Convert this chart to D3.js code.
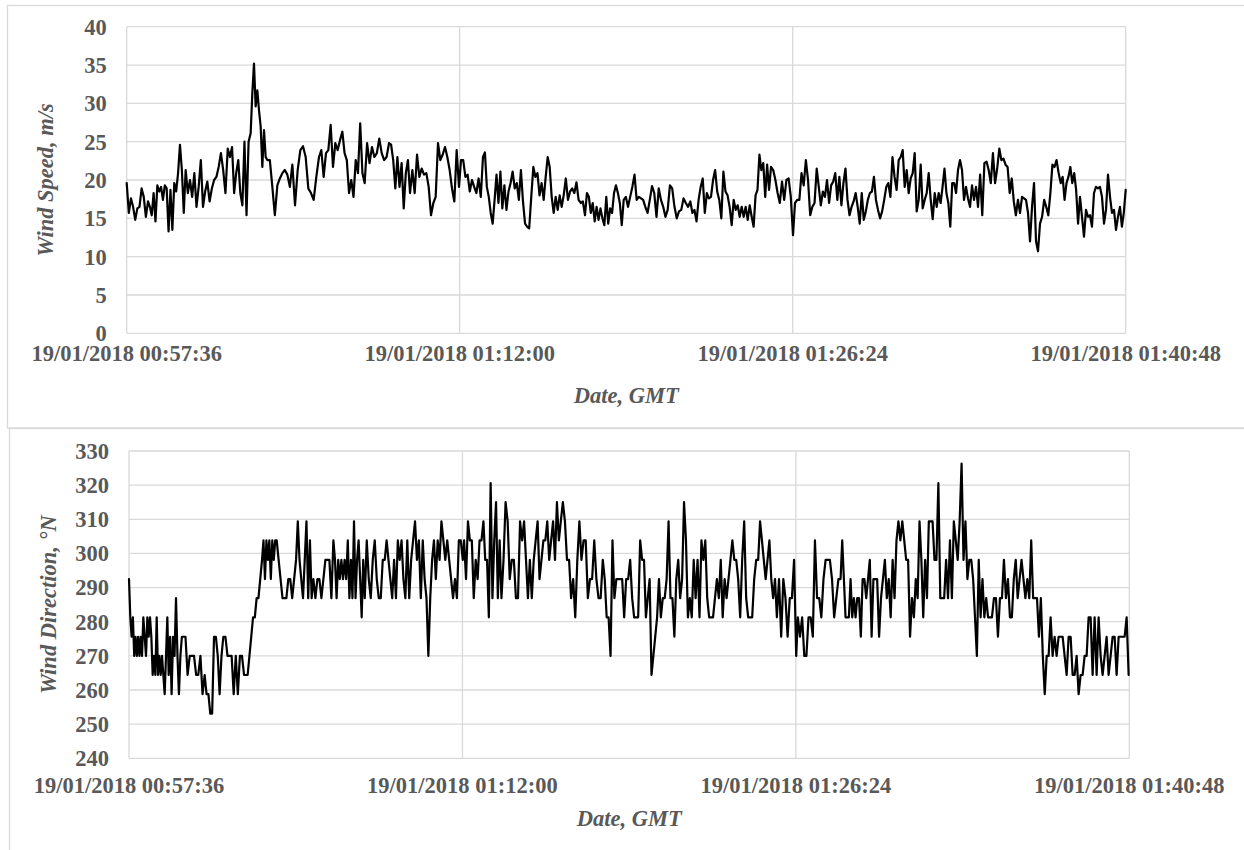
<!DOCTYPE html>
<html>
<head>
<meta charset="utf-8">
<script src="https://cdn.jsdelivr.net/npm/d3@7"></script>
<style>
  html, body { margin: 0; padding: 0; background: #fff; }
  svg { display: block; }
  text { font-family: "Liberation Serif", "Times New Roman", serif; }
</style>
</head>
<body>
<svg id="chart" width="1244" height="850"></svg>
<script>
// ---------------- DATA ----------------
const startTime = Date.UTC(2018, 0, 19, 0, 57, 36);
const xTickSeconds = [0, 864, 1728, 2592];

const speedTicks = [0, 5, 10, 15, 20, 25, 30, 35, 40];
const directionTicks = [240, 250, 260, 270, 280, 290, 300, 310, 320, 330];

// Wind speed (m/s), three consecutive time segments
const speedSeg1 = [19.6,15.7,17.6,16.5,14.8,16.3,16.5,18.9,17.8,15.2,
17.2,16.5,15.4,18.3,14.6,19.3,18.5,19.1,17.4,19.3,
18.9,13.3,18.7,13.5,19.6,18.5,20.9,24.6,21.3,15.7,
21.3,18.3,20.0,17.8,20.9,16.5,19.1,22.6,16.5,18.5,
19.8,17.2,18.9,20.0,20.4,21.7,23.5,21.3,18.3,24.1,
23.0,24.3,18.3,20.9,22.6,18.3,16.7,25.0,15.4,25.0,
26.1,31.3,35.2,29.6,31.7,29.1,27.0,21.7,26.5,23.0,
22.6,22.6,19.1,15.4,19.3,20.2,20.9,21.3,20.7,19.1,
22.0,16.7,21.3,23.9,24.4,23.0,18.9,18.3,17.4,20.4,
23.0,23.9,20.4,23.5,23.9,27.2,21.7,24.8,23.9,25.2,
26.3,23.5,22.6,18.3,20.0,17.8,22.6,20.9,27.4,20.9,
19.6,24.8,22.2,24.3,23.0,23.5,25.4,23.5,22.6,23.0,
24.8,24.6,22.6,18.9,23.0,19.1,22.2,16.3,20.9,22.6,
18.3,21.3,18.3,23.3,20.4,21.5,20.7,20.9,19.1,15.4,
17.0,17.8,24.8,22.6,23.3,24.3,23.0,21.3,18.9,17.2,
23.9,19.1];
const speedSeg2 = [22.6,22.6,20.4,20.7,18.5,20.0,19.1,18.3,20.2,17.8,
23.0,23.6,19.1,17.8,15.7,14.3,17.4,20.7,17.0,21.1,
16.3,19.3,16.1,18.5,19.6,21.1,18.9,19.6,17.4,21.3,
17.2,14.3,13.9,13.7,17.8,21.7,20.4,20.9,18.0,19.6,
17.4,20.4,23.0,21.7,17.8,15.7,17.8,16.1,18.0,16.5,
18.0,20.2,17.4,18.5,18.9,18.3,19.7,17.4,17.0,17.2,
15.4,18.3,17.8,15.7,17.0,14.6,16.5,14.8,16.3,15.0,
14.1,17.8,14.3,16.3,15.7,18.3,19.3,18.3,17.0,14.1,
17.4,17.8,16.5,17.8,19.1,20.7,17.4,17.8,17.6,17.4,
16.5,15.7,17.4,19.2,18.3,15.2,18.9,17.4,16.5,15.2,
16.1,19.3,18.9,16.5,15.0,15.9,16.1,17.6,17.0,16.5,
17.2,15.7,16.1,14.6,17.4,19.1,20.2,15.7,18.3,17.6,
17.8,20.0,21.3,18.5,17.4,15.0,21.1,18.5,18.0,16.5,
14.1,17.4,16.1,16.7,15.2,16.5,15.2,16.5,14.8,16.7,
15.2,13.9,18.0,18.7,23.3,21.3,22.2,17.8,22.0,18.7,
21.7,21.3,20.0,18.3,17.0,19.8,17.4,20.0,20.2,17.8,
12.8];
const speedSeg3 = [17.0,17.4,17.4,20.9,19.3,22.6,20.0,15.4,16.5,17.0,
21.5,19.1,16.7,18.5,17.8,20.0,17.0,19.3,19.8,20.9,
17.4,20.4,16.7,19.6,21.5,17.4,15.4,16.5,17.2,18.3,
16.5,14.3,18.3,14.8,15.9,17.4,18.3,18.5,20.4,17.4,
16.1,15.0,15.9,17.4,19.1,19.6,17.8,23.0,20.4,18.7,
22.6,23.0,23.9,19.1,21.3,18.3,20.2,20.9,23.5,15.9,
17.4,22.0,16.3,17.4,18.3,20.9,17.4,14.9,18.3,16.5,
18.3,17.0,19.1,21.5,18.3,17.0,13.9,19.6,19.6,18.3,
21.3,22.6,21.3,17.4,19.1,17.6,16.5,19.3,17.4,19.1,
16.5,20.7,15.4,22.2,22.4,21.3,19.6,23.5,19.6,21.5,
24.1,22.6,22.8,22.0,21.7,18.3,20.2,17.2,15.4,17.4,
15.7,17.8,17.6,17.4,15.7,12.0,16.5,19.6,12.0,10.7,
14.3,15.2,17.4,16.5,15.4,18.3,22.0,21.7,22.6,20.9,
19.6,20.4,17.4,19.6,20.4,21.7,19.6,20.9,18.7,14.3,
17.8,15.2,12.6,16.1,15.2,15.4,13.9,18.3,19.1,18.9,
19.1,17.8,14.3,16.1,20.7,17.8,15.7,16.1,13.5,15.2,
16.5,13.9,15.7,18.7];
// seconds from start, read at every 10th sample of each segment (and its last sample)
const speedTimes1 = [0,55.3,103.7,153.0,209.2,268.0,321.6,364.9,429.8,498.9,559.5,617.4,680.6,735.1,795.6,856.1,862.2];
const speedTimes2 = [867.4,924.4,974.6,1028.2,1081.9,1133.8,1189.1,1239.3,1289.5,1345.6,1403.6,1462.4,1516.0,1569.7,1621.6,1671.7,1728.8];
const speedTimes3 = [1734.0,1790.3,1843.8,1896.6,1949.3,2003.0,2054.9,2106.8,2156.9,2208.8,2264.1,2317.8,2369.7,2423.4,2473.4,2525.3,2577.2,2592];

// Wind direction (°N), three consecutive time segments
const dirSeg1 = [292.5,281.3,275.6,281.3,270,275.6,270,275.6,270,275.6,
270,281.3,275.6,270,281.3,275.6,281.3,275.6,264.4,270,
264.4,281.3,264.4,270,264.4,270,264.4,258.8,270,281.3,
264.4,275.6,258.8,275.6,270,286.9,270,258.8,270,275.6,
275.6,275.6,264.4,270,270,270,264.4,264.4,270,258.8,
264.4,258.8,258.8,253.1,253.1,275.6,275.6,270,258.8,270,
275.6,275.6,270,270,270,258.8,270,258.8,270,270,
264.4,264.4,264.4,270,275.6,281.3,281.3,286.9,286.9,292.5,
298.1,303.8,292.5,303.8,298.1,303.8,292.5,303.8,298.1,303.8,
303.8,298.1,292.5,286.9,286.9,286.9,292.5,292.5,286.9,292.5,
298.1,309.4,298.1,292.5,286.9,298.1,309.4,286.9,303.8,286.9,
292.5,286.9,292.5,292.5,286.9,292.5,298.1,298.1,298.1,286.9,
303.8,298.1,286.9,298.1,292.5,298.1,292.5,298.1,292.5,303.8,
286.9,298.1,286.9,309.4,286.9,298.1,303.8,292.5,281.3,298.1,
286.9,303.8,292.5,286.9,298.1,303.8,292.5,286.9,286.9,298.1,
298.1,303.8,298.1,292.5,286.9,298.1,286.9,303.8,298.1,303.8,
292.5,286.9,303.8,286.9,298.1,303.8,309.4,298.1,303.8,286.9,
303.8,292.5,286.9,270,286.9,298.1,303.8,292.5,303.8,298.1,
309.4,303.8,298.1,303.8,298.1,292.5,286.9,292.5,286.9,303.8,
303.8,298.1];
const dirSeg2 = [303.8,292.5,309.4,303.8,303.8,286.9,298.1,292.5,303.8,303.8,
309.4,298.1,298.1,281.3,320.6,286.9,303.8,315,286.9,303.8,
286.9,298.1,315,309.4,292.5,298.1,298.1,286.9,286.9,309.4,
303.8,309.4,298.1,286.9,298.1,286.9,298.1,303.8,309.4,292.5,
298.1,303.8,303.8,309.4,298.1,303.8,309.4,298.1,315,303.8,
309.4,315,309.4,298.1,298.1,286.9,292.5,281.3,298.1,309.4,
298.1,303.8,303.8,286.9,292.5,292.5,303.8,292.5,286.9,286.9,
298.1,292.5,281.3,281.3,270,303.8,286.9,292.5,292.5,292.5,
292.5,281.3,292.5,292.5,298.1,286.9,281.3,281.3,281.3,303.8,
298.1,298.1,281.3,286.9,292.5,264.4,270,275.6,281.3,292.5,
281.3,286.9,286.9,292.5,309.4,286.9,286.9,275.6,292.5,298.1,
286.9,292.5,315,303.8,281.3,286.9,281.3,298.1,286.9,298.1,
281.3,303.8,298.1,303.8,286.9,281.3,281.3,281.3,286.9,292.5,
286.9,298.1,281.3,292.5,286.9,292.5,298.1,303.8,298.1,298.1,
292.5,281.3,298.1,309.4,286.9,281.3,281.3,281.3,292.5,298.1,
298.1,309.4,303.8,298.1,292.5,298.1,303.8,292.5,286.9,292.5,
281.3,292.5,275.6,292.5,286.9,275.6,286.9,286.9,298.1,270];
const dirSeg3 = [281.3,275.6,281.3,270,270,281.3,281.3,275.6,303.8,286.9,
286.9,281.3,292.5,298.1,298.1,298.1,292.5,281.3,286.9,292.5,
292.5,303.8,292.5,281.3,281.3,281.3,292.5,281.3,286.9,281.3,
286.9,286.9,275.6,292.5,292.5,286.9,292.5,298.1,275.6,292.5,
292.5,292.5,275.6,286.9,292.5,298.1,286.9,292.5,281.3,298.1,
286.9,303.8,309.4,303.8,309.4,303.8,298.1,298.1,275.6,286.9,
281.3,292.5,286.9,309.4,298.1,281.3,298.1,286.9,309.4,309.4,
309.4,298.1,298.1,320.6,286.9,286.9,286.9,298.1,286.9,303.8,
286.9,309.4,303.8,298.1,309.4,326.3,298.1,309.4,292.5,298.1,
298.1,292.5,281.3,270,298.1,281.3,292.5,281.3,286.9,281.3,
281.3,281.3,286.9,286.9,275.6,286.9,286.9,298.1,286.9,292.5,
281.3,281.3,292.5,298.1,286.9,292.5,298.1,292.5,286.9,292.5,
286.9,303.8,286.9,286.9,286.9,275.6,286.9,270,258.8,270,
270,281.3,270,275.6,270,275.6,275.6,275.6,270,264.4,
275.6,275.6,264.4,264.4,270,258.8,264.4,264.4,270,270,
281.3,281.3,264.4,281.3,264.4,281.3,270,264.4,270,275.6,
264.4,270,275.6,275.6,264.4,275.6,275.6,275.6,275.6,281.3,
264.4];
const dirTimes1 = [0,33.7,68.3,102.8,140.8,196.1,244.5,298.1,344.7,382.7,432.9,477.8,529.6,571.1,610.9,662.7,711.1,761.2,809.6,859.7,864.9];
const dirTimes2 = [868.3,918.4,965.1,1018.7,1068.8,1118.9,1172.4,1227.7,1277.9,1329.7,1378.1,1428.2,1478.3,1528.4,1578.5,1630.4,1678.8,1728.9];
const dirTimes3 = [1733.2,1788.5,1843.8,1887.0,1933.6,1983.7,2033.9,2082.2,2132.3,2182.5,2230.9,2282.7,2332.8,2382.9,2434.8,2486.6,2538.4,2590.3];

// ---------------- BUILD ----------------
// times are known at every 10th sample and at the last one; samples between are spread evenly
function buildSeries(segs, timeLists) {
  const pts = [];
  segs.forEach((arr, k) => {
    const times = timeLists[k];
    const n = arr.length;
    const idx = [];
    for (let i = 0; i < n; i += 10) idx.push(i);
    if (idx[idx.length - 1] !== n - 1) idx.push(n - 1);
    arr.forEach((v, i) => {
      let j = Math.min(Math.floor(i / 10), idx.length - 2);
      const i0 = idx[j], i1 = idx[j + 1];
      const t = times[j] + (times[j + 1] - times[j]) * (i - i0) / (i1 - i0);
      pts.push({ date: new Date(startTime + t * 1000), v });
    });
  });
  return pts;
}
const speedData = buildSeries([speedSeg1, speedSeg2, speedSeg3], [speedTimes1, speedTimes2, speedTimes3]);
const dirData = buildSeries([dirSeg1, dirSeg2, dirSeg3], [dirTimes1, dirTimes2, dirTimes3]);

const svg = d3.select("#chart");
const fmt = d3.utcFormat("%d/%m/%Y %H:%M:%S");
const grid = "#d9d9d9";
const textCol = "#595959";
const fs = 22.5;

// chart frames
svg.append("rect").attr("x", 7.5).attr("y", 5.5).attr("width", 1300).attr("height", 422.5)
  .attr("fill", "none").attr("stroke", grid).attr("stroke-width", 1.3);
svg.append("rect").attr("x", 9.5).attr("y", 428.5).attr("width", 1300).attr("height", 500)
  .attr("fill", "none").attr("stroke", grid).attr("stroke-width", 1.3);

function drawPanel(cfg) {
  const g = svg.append("g");
  const x = d3.scaleUtc()
    .domain([new Date(startTime), new Date(startTime + 2592 * 1000)])
    .range([cfg.left, cfg.right]);
  const y = d3.scaleLinear().domain(cfg.domain).range([cfg.bottom, cfg.top]);
  const xTicks = xTickSeconds.map(s => new Date(startTime + s * 1000));

  g.append("g").selectAll("line").data(cfg.yTicks).join("line")
    .attr("x1", cfg.left).attr("x2", cfg.right)
    .attr("y1", d => y(d)).attr("y2", d => y(d))
    .attr("stroke", grid).attr("stroke-width", 1.3);
  g.append("g").selectAll("line").data(xTicks).join("line")
    .attr("x1", d => x(d)).attr("x2", d => x(d))
    .attr("y1", cfg.top).attr("y2", cfg.bottom)
    .attr("stroke", grid).attr("stroke-width", 1.3);

  g.append("g").selectAll("text").data(cfg.yTicks).join("text")
    .attr("x", cfg.left - 20).attr("y", d => y(d)).attr("dy", "0.35em")
    .attr("text-anchor", "end").attr("font-weight", "bold")
    .attr("font-size", fs).attr("fill", textCol).text(d => d);

  g.append("g").selectAll("text").data(xTicks).join("text")
    .attr("x", d => x(d)).attr("y", cfg.xLabelY)
    .attr("text-anchor", "middle").attr("font-weight", "bold")
    .attr("font-size", fs).attr("fill", textCol).text(d => fmt(d));

  g.append("text").attr("x", (cfg.left + cfg.right) / 2).attr("y", cfg.xTitleY)
    .attr("text-anchor", "middle").attr("font-weight", "bold").attr("font-style", "italic")
    .attr("font-size", fs).attr("fill", textCol).text("Date, GMT");
  g.append("text")
    .attr("transform", `translate(${cfg.yTitleX},${(cfg.top + cfg.bottom) / 2}) rotate(-90)`)
    .attr("dy", "0.35em").attr("text-anchor", "middle")
    .attr("font-weight", "bold").attr("font-style", "italic")
    .attr("font-size", fs).attr("fill", textCol).text(cfg.yTitle);

  const line = d3.line().x(d => x(d.date)).y(d => y(d.v));
  g.append("path").datum(cfg.data).attr("d", line)
    .attr("fill", "none").attr("stroke", "#000").attr("stroke-width", 2.2)
    .attr("stroke-linejoin", "round").attr("stroke-linecap", "round");
}

drawPanel({
  left: 126.7, right: 1125.7, top: 26.7, bottom: 333.3,
  domain: [0, 40], yTicks: speedTicks, data: speedData,
  xLabelY: 360.5, xTitleY: 402.5, yTitleX: 45, yTitle: "Wind Speed, m/s"
});
drawPanel({
  left: 129, right: 1129.3, top: 451, bottom: 758.3,
  domain: [240, 330], yTicks: directionTicks, data: dirData,
  xLabelY: 793, xTitleY: 826, yTitleX: 48, yTitle: "Wind Direction, °N"
});
</script>
</body>
</html>
